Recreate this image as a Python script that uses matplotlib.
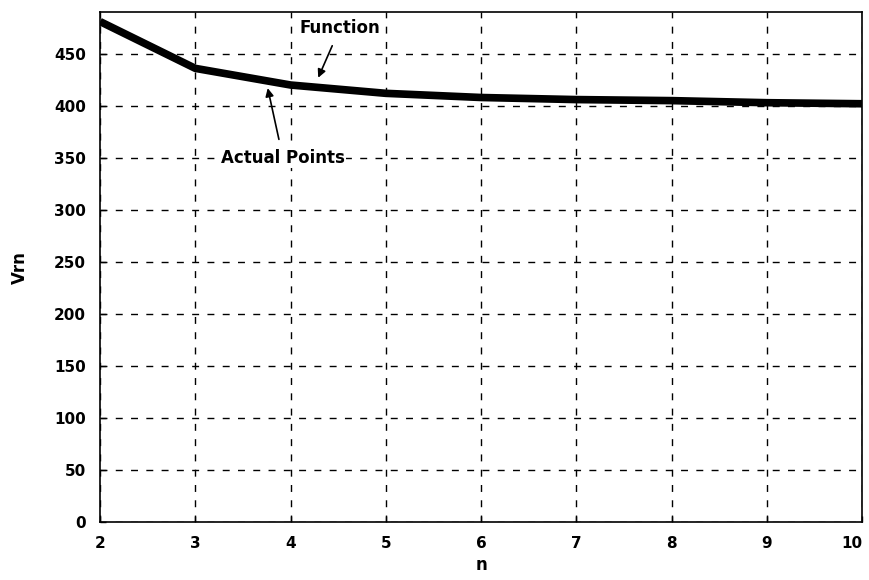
import numpy as np
import matplotlib.pyplot as plt

# valores
n = np.array([2, 3, 4, 5, 6, 7, 8, 9, 10])
vrn = np.array([481, 436, 420, 412, 408, 406, 405, 403, 402])

xticks = [2, 3, 4, 5, 6, 7, 8, 9, 10]
yticks = [0, 50, 100, 150, 200, 250, 300, 350, 400, 450]

plt.rcParams['font.family'] = ['DejaVu Sans']
plt.rcParams['font.weight'] = 'bold'

fig = plt.figure(figsize=(8.7, 5.8), dpi=100)
ax = fig.add_axes([0.115, 0.1, 0.876, 0.879])

ax.plot(n, vrn, color='black', linewidth=5.5, solid_capstyle='butt')

ax.set_xlim(2, 10)
ax.set_ylim(0, 490)
ax.set_xticks(xticks)
ax.set_yticks(yticks)
ax.tick_params(direction='in', labelsize=11, length=4, width=1)
ax.tick_params(axis='x', pad=10)
ax.tick_params(axis='y', pad=10)
for lbl in ax.get_xticklabels() + ax.get_yticklabels():
    lbl.set_fontweight('bold')
# o "10" fica encostado à borda direita
ax.get_xticklabels()[-1].set_horizontalalignment('right')
ax.grid(True, color='black', linestyle=(0, (5, 6)), linewidth=1)
for s in ax.spines.values():
    s.set_linewidth(1.2)

ax.set_xlabel('n', fontsize=12, fontweight='bold', labelpad=4)
ax.set_ylabel('Vrn', fontsize=12, fontweight='bold', labelpad=18)

ax.annotate('Function', xy=(4.29, 427), xytext=(4.52, 475),
            ha='center', va='center', fontsize=12, fontweight='bold',
            arrowprops=dict(arrowstyle='-|>', color='black', lw=1.2,
                            shrinkA=6, shrinkB=0, mutation_scale=12),
            bbox=dict(facecolor='white', edgecolor='none', pad=1))
ax.annotate('Actual Points', xy=(3.76, 417), xytext=(3.92, 350),
            ha='center', va='center', fontsize=12, fontweight='bold',
            arrowprops=dict(arrowstyle='-|>', color='black', lw=1.2,
                            shrinkA=6, shrinkB=0, mutation_scale=12),
            bbox=dict(facecolor='white', edgecolor='none', pad=1))

fig.savefig('out.png', dpi=100)
